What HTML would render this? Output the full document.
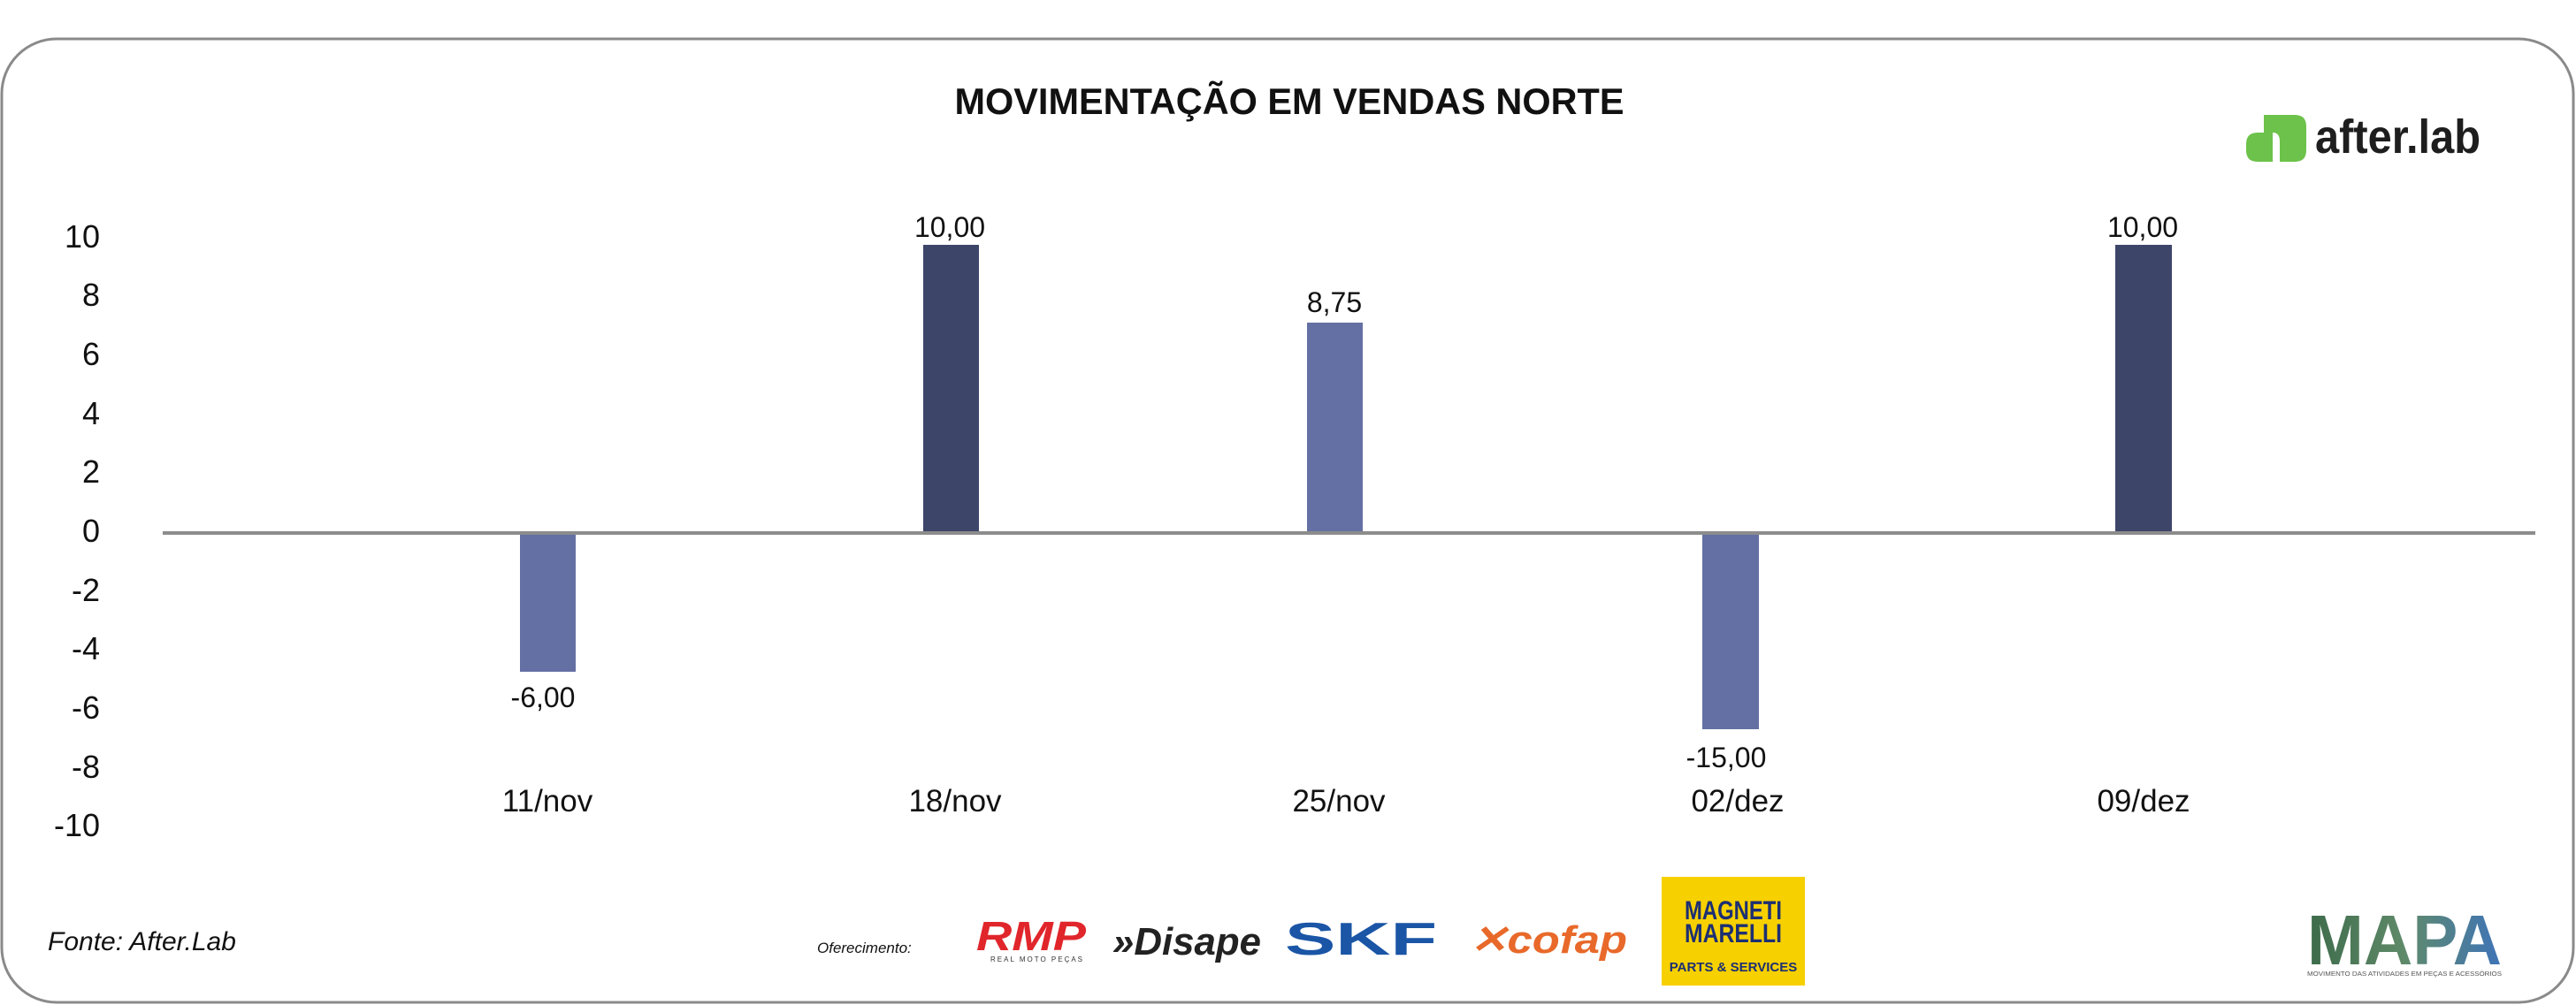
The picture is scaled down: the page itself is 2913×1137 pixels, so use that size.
<!DOCTYPE html>
<html><head><meta charset="utf-8"><style>
html,body{margin:0;padding:0;background:#fff}
svg{display:block}
</style></head><body>
<svg width="2913" height="1137" viewBox="0 0 2913 1137" xmlns="http://www.w3.org/2000/svg">
<rect x="2" y="44" width="2908" height="1090" rx="62" ry="62" fill="#fff" stroke="#8a8a8a" stroke-width="3"/>
<text x="1458" y="129" text-anchor="middle" font-family="Liberation Sans, sans-serif" font-weight="bold" font-size="42" fill="#111" textLength="757" lengthAdjust="spacingAndGlyphs">MOVIMENTAÇÃO EM VENDAS NORTE</text>
<!-- after.lab logo -->
<path d="M2560 130 H2595 Q2608 130 2608 143 V170 Q2608 183 2595 183 H2578 V160 Q2578 150 2570 150 H2560 Z" fill="#6cc24a"/>
<path d="M2540 163 Q2540 150 2553 150 H2570 V183 H2553 Q2540 183 2540 170 Z" fill="#6cc24a"/>
<text x="2618" y="173" font-family="Liberation Sans, sans-serif" font-weight="bold" font-size="54" fill="#1e1e1e" textLength="187" lengthAdjust="spacingAndGlyphs">after.lab</text>
<!-- y axis labels -->
<g font-family="Liberation Sans, sans-serif" font-size="36" fill="#111" text-anchor="end">
<text x="113" y="280">10</text>
<text x="113" y="346">8</text>
<text x="113" y="413">6</text>
<text x="113" y="480">4</text>
<text x="113" y="546">2</text>
<text x="113" y="613">0</text>
<text x="113" y="680">-2</text>
<text x="113" y="746">-4</text>
<text x="113" y="813">-6</text>
<text x="113" y="880">-8</text>
<text x="113" y="946">-10</text>
</g>
<!-- bars -->
<rect x="588" y="603" width="63" height="157" fill="#6470a3"/>
<rect x="1044" y="277" width="63" height="326" fill="#3d4569"/>
<rect x="1478" y="365" width="63" height="238" fill="#6470a3"/>
<rect x="1925" y="603" width="64" height="222" fill="#6470a3"/>
<rect x="2392" y="277" width="64" height="326" fill="#3d4569"/>
<line x1="184" y1="603" x2="2867" y2="603" stroke="#8c8c8c" stroke-width="4"/>
<!-- value labels -->
<g font-family="Liberation Sans, sans-serif" font-size="32" fill="#111" text-anchor="middle">
<text x="1074" y="268">10,00</text>
<text x="614" y="800">-6,00</text>
<text x="1509" y="353">8,75</text>
<text x="1952" y="868">-15,00</text>
<text x="2423" y="268">10,00</text>
</g>
<g font-family="Liberation Sans, sans-serif" font-size="35" fill="#111" text-anchor="middle">
<text x="619" y="918">11/nov</text>
<text x="1080" y="918">18/nov</text>
<text x="1514" y="918">25/nov</text>
<text x="1965" y="918">02/dez</text>
<text x="2424" y="918">09/dez</text>
</g>
<text x="54" y="1075" font-family="Liberation Sans, sans-serif" font-style="italic" font-size="30" fill="#111">Fonte: After.Lab</text>
<text x="924" y="1078" font-family="Liberation Sans, sans-serif" font-style="italic" font-size="17" fill="#111">Oferecimento:</text>
<!-- sponsor logos -->
<text x="1104" y="1075" font-family="Liberation Sans, sans-serif" font-weight="bold" font-style="italic" font-size="46" fill="#e0262b" textLength="124" lengthAdjust="spacingAndGlyphs">RMP</text>
<text x="1120" y="1088" font-family="Liberation Sans, sans-serif" font-size="8" fill="#333" letter-spacing="2">REAL MOTO PEÇAS</text>
<text x="1258" y="1080" font-family="Liberation Sans, sans-serif" font-weight="bold" font-style="italic" font-size="44" fill="#222" textLength="168" lengthAdjust="spacingAndGlyphs">»Disape</text>
<text x="1453" y="1080" font-family="Liberation Sans, sans-serif" font-weight="bold" font-size="52" fill="#1a55a6" textLength="172" lengthAdjust="spacingAndGlyphs">SKF</text>
<text x="1662" y="1078" font-family="Liberation Sans, sans-serif" font-weight="bold" font-style="italic" font-size="44" fill="#e8692a" textLength="178" lengthAdjust="spacingAndGlyphs">✕cofap</text>
<rect x="1879" y="992" width="162" height="123" fill="#f7d000"/>
<text x="1960" y="1040" text-anchor="middle" font-family="Liberation Sans, sans-serif" font-weight="bold" font-size="30" fill="#1c2f73" textLength="110" lengthAdjust="spacingAndGlyphs">MAGNETI</text>
<text x="1960" y="1066" text-anchor="middle" font-family="Liberation Sans, sans-serif" font-weight="bold" font-size="30" fill="#1c2f73" textLength="110" lengthAdjust="spacingAndGlyphs">MARELLI</text>
<text x="1960" y="1099" text-anchor="middle" font-family="Liberation Sans, sans-serif" font-weight="bold" font-size="15" fill="#1c2f73">PARTS &amp; SERVICES</text>
<defs><linearGradient id="mg" x1="0" x2="1"><stop offset="0" stop-color="#3d6b4a"/><stop offset="0.5" stop-color="#5f8a6a"/><stop offset="1" stop-color="#3f74b8"/></linearGradient></defs>
<text x="2609" y="1091" font-family="Liberation Sans, sans-serif" font-weight="bold" font-size="80" fill="url(#mg)" textLength="220" lengthAdjust="spacingAndGlyphs">MAPA</text>
<text x="2609" y="1104" font-family="Liberation Sans, sans-serif" font-size="7" fill="#555" textLength="220" lengthAdjust="spacingAndGlyphs">MOVIMENTO DAS ATIVIDADES EM PEÇAS E ACESSÓRIOS</text>
</svg>
</body></html>
